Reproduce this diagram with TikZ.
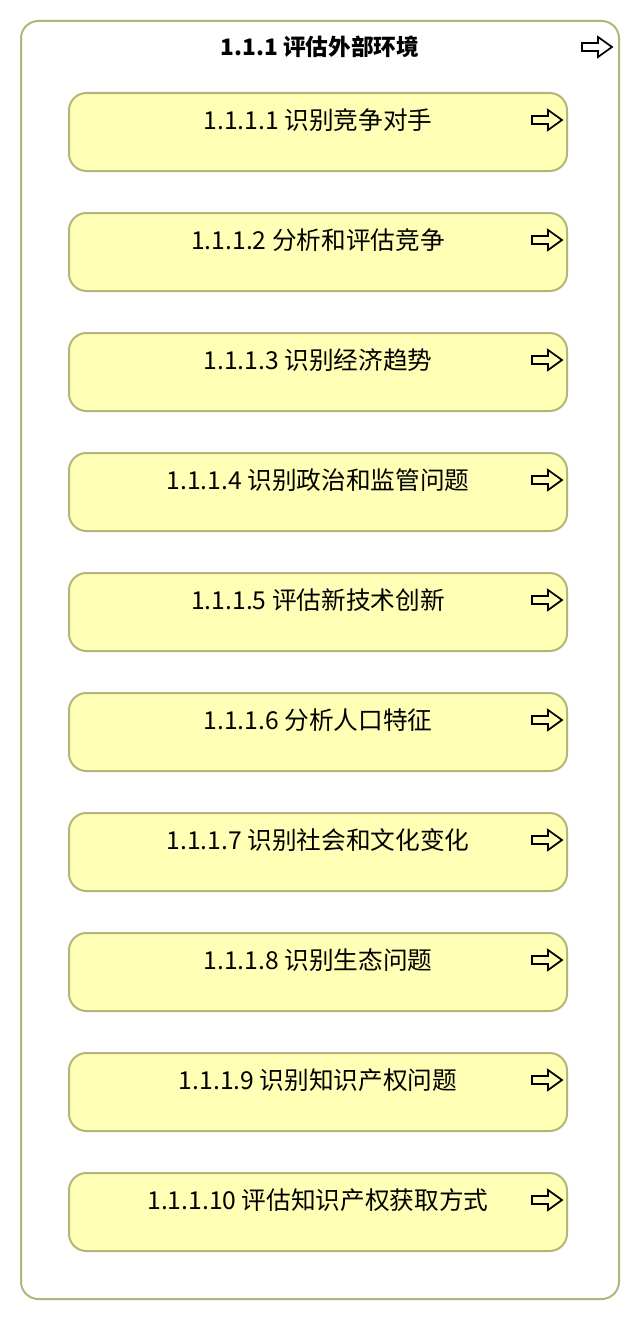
\documentclass[tikz,border=0pt]{standalone}
\usepackage{fontspec}
\setmainfont{Noto Sans CJK SC}
\usetikzlibrary{positioning}
\definecolor{taskfill}{RGB}{255,255,181}
\definecolor{taskline}{RGB}{181,181,122}

\tikzset{
  task/.style={draw=taskline,fill=taskfill,line width=1.5pt,rounded corners=13pt,
               minimum width=373.5pt,minimum height=58.5pt,inner sep=0pt},
  group/.style={draw=taskline,fill=white,line width=1.5pt,rounded corners=13pt,
                minimum width=448.5pt,minimum height=958.5pt,inner sep=0pt},
  tasktext/.style={font=\fontsize{18.5}{22}\selectfont,inner sep=0pt},
  grouptext/.style={font=\bfseries\fontsize{17}{20}\selectfont,inner sep=0pt},
  actarrow/.pic={
    \draw[line width=1.3pt,line join=miter]
      (0,0) -- (-14,-10) -- (-14,-4) -- (-30,-4) -- (-30,4) -- (-14,4) -- (-14,10) -- cycle;
  }
}

\begin{document}
\begin{tikzpicture}[x=0.75pt,y=-0.75pt]
  \useasboundingbox (0,0) rectangle (640,1320);

  % outer group
  \node[group] (env) at (320,660) {};
  \node[grouptext] (envlabel) at (320,47) {1.1.1 评估外部环境};
  \pic at (612,47) {actarrow};

  % tasks
  \foreach \i/\txt in {1/识别竞争对手, 2/分析和评估竞争, 3/识别经济趋势,
                       4/识别政治和监管问题, 5/评估新技术创新, 6/分析人口特征,
                       7/识别社会和文化变化, 8/识别生态问题, 9/识别知识产权问题,
                       10/评估知识产权获取方式} {
    \node[task] (t\i) at (318,{132+120*(\i-1)}) {};
    \node[tasktext] (l\i) at (318,{120+120*(\i-1)}) {1.1.1.\i\ \txt};
    \pic at (562,{120+120*(\i-1)}) {actarrow};
  }
\end{tikzpicture}
\end{document}
